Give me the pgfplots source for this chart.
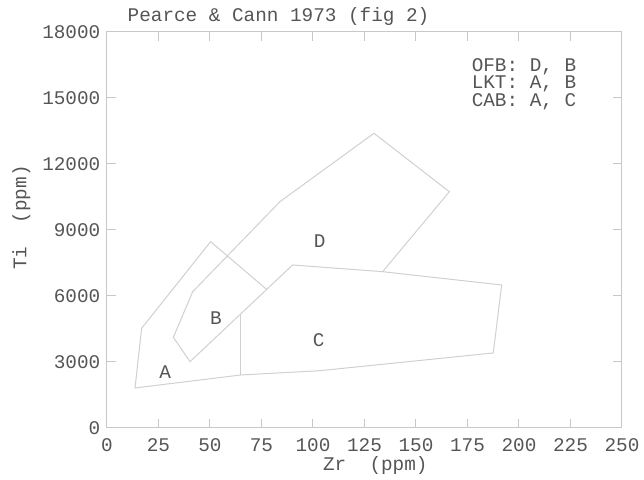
\documentclass[border=0pt]{standalone}
\usepackage{pgfplots}
\pgfplotsset{compat=1.18}
\usepackage{fontspec}
\setmainfont{Liberation Mono}

\definecolor{framegray}{HTML}{C8C8C8}
\definecolor{fieldgray}{HTML}{D0D0D0}
\definecolor{txtgray}{HTML}{555555}

\begin{document}
\begin{tikzpicture}
\begin{axis}[
    scale only axis,
    width=386.25pt, height=297pt,
    xmin=0, xmax=250, ymin=0, ymax=18000,
    xtick={0,25,...,250},
    ytick={0,3000,...,18000},
    tick align=inside,
    major tick length=7pt,
    axis line style={framegray, line width=0.75pt},
    tick style={framegray, line width=0.75pt},
    /pgf/number format/1000 sep={},
    /pgf/number format/assume math mode=true,
    scaled ticks=false,
    font=\fontsize{14.5}{16}\selectfont,
    every tick label/.append style={text=txtgray},
    xticklabel style={yshift=-4.2pt},
    yticklabel style={xshift=-1.5pt},
    xlabel={Zr\ \ (ppm)},
    ylabel={Ti\ \ (ppm)},
    xlabel style={at={(axis description cs:0.521,-0.108)}, anchor=base, text=txtgray},
    ylabel style={at={(axis description cs:-0.1564,0.5316)}, anchor=base, text=txtgray},
    clip=false,
  ]
  % field boundaries (Pearce & Cann 1973)
  \addplot[fieldgray, line width=0.75pt, mark=none] coordinates {
    (77.5,6300) (50.3,8470) (16.8,4530) (13.6,1820) (65,2410) (103.4,2605)
    (187.5,3410) (191.6,6500) (133.8,7105) (90.1,7410) (40.3,3015)
    (32.2,4120) (41.6,6196) (84,10290) (129.6,13395) (166.2,10740) (133.8,7105)
  };
  \addplot[fieldgray, line width=0.75pt, mark=none] coordinates {
    (65,2410) (65,5177)
  };

  \node[text=txtgray] at (axis cs:28.2,2520) {A};
  \node[text=txtgray] at (axis cs:52.9,4980) {B};
  \node[text=txtgray] at (axis cs:102.8,4000) {C};
  \node[text=txtgray] at (axis cs:103.2,8510) {D};

  \node[anchor=base west, text=txtgray] at (axis cs:174.8,16195) {OFB: D, B};
  \node[anchor=base west, text=txtgray] at (axis cs:174.8,15409) {LKT: A, B};
  \node[anchor=base west, text=txtgray] at (axis cs:174.8,14614) {CAB: A, C};

  \node[anchor=base west, text=txtgray] at (axis description cs:0.0311,1.0265) {Pearce \& Cann 1973 (fig 2)};
\end{axis}
\path ([shift={(-80.25pt,-37.5pt)}]current axis.south west) rectangle ([shift={(16.5pt,24pt)}]current axis.north east);
\end{tikzpicture}
\end{document}
